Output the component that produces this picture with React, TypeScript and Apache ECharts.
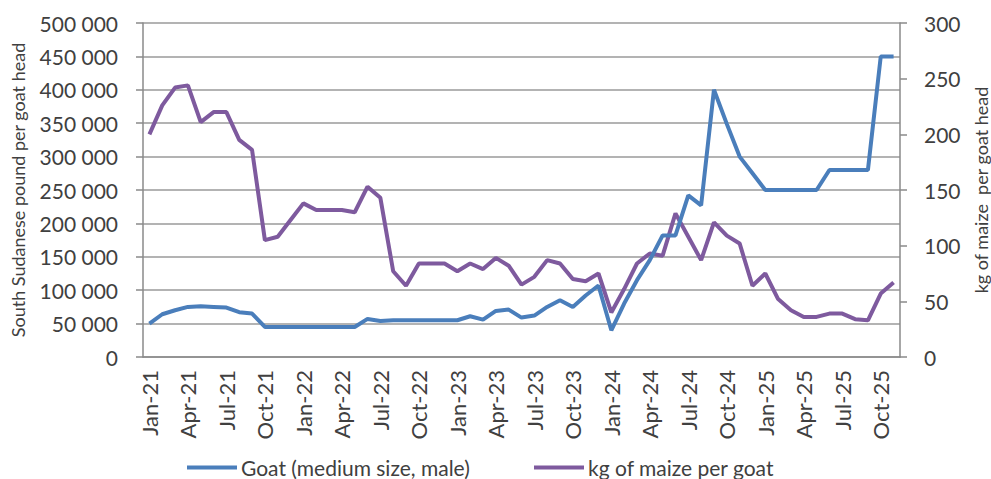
import React, { useEffect, useRef } from "react";
import * as echarts from "echarts";

// Monthly categories, Jan-21 .. Nov-25
const months: string[] = [
  "Jan-21", "Feb-21", "Mar-21", "Apr-21", "May-21", "Jun-21", "Jul-21", "Aug-21", "Sep-21", "Oct-21", "Nov-21", "Dec-21",
  "Jan-22", "Feb-22", "Mar-22", "Apr-22", "May-22", "Jun-22", "Jul-22", "Aug-22", "Sep-22", "Oct-22", "Nov-22", "Dec-22",
  "Jan-23", "Feb-23", "Mar-23", "Apr-23", "May-23", "Jun-23", "Jul-23", "Aug-23", "Sep-23", "Oct-23", "Nov-23", "Dec-23",
  "Jan-24", "Feb-24", "Mar-24", "Apr-24", "May-24", "Jun-24", "Jul-24", "Aug-24", "Sep-24", "Oct-24", "Nov-24", "Dec-24",
  "Jan-25", "Feb-25", "Mar-25", "Apr-25", "May-25", "Jun-25", "Jul-25", "Aug-25", "Sep-25", "Oct-25", "Nov-25",
];

// Goat price, South Sudanese pound per head (left axis)
const goatPrice: number[] = [
  50000, 64000, 70000, 75000, 76000, 75000, 74000, 67000, 65000, 45000, 45000, 45000,
  45000, 45000, 45000, 45000, 45000, 57000, 54000, 55000, 55000, 55000, 55000, 55000,
  55000, 61000, 56000, 69000, 71000, 59000, 62000, 75000, 85000, 75000, 92000, 107000,
  40000, 80000, 115000, 145000, 182000, 182000, 242000, 227000, 400000, 349000, 300000, 275000,
  250000, 250000, 250000, 250000, 250000, 280000, 280000, 280000, 280000, 450000, 450000,
];

// Terms of trade, kg of maize per goat (right axis)
const maizePerGoat: number[] = [
  200, 226, 242, 244, 211, 220, 220, 195, 186, 105, 108, 123,
  138, 132, 132, 132, 130, 153, 143, 77, 64, 84, 84, 84,
  77, 84, 79, 89, 82, 65, 72, 87, 84, 70, 68, 75,
  40, 61, 84, 93, 91, 129, 108, 87, 121, 109, 102, 64,
  75, 52, 42, 36, 36, 39, 39, 34, 33, 57, 67,
];

const seriesNames = ["Goat (medium size, male)", "kg of maize per goat"];
const axisTitles = ["South Sudanese pound per goat head", "kg of maize  per goat head"];

const FONT = "Lato, 'Open Sans', sans-serif";
const TEXT = "#404040";
const AXIS = "#8a8a8a";
const BLUE = "#4a7ebb";
const PURPLE = "#7e5a9e";

const fmtThousands = (v: number) =>
  v === 0 ? "0" : String(v).replace(/\B(?=(\d{3})+(?!\d))/g, " ");

const legendBase = {
  top: 452,
  icon: "rect",
  itemWidth: 50,
  itemHeight: 4,
  textStyle: { fontFamily: FONT, fontSize: 21, color: TEXT, padding: [0, 0, 0, -1] },
};

export default function App() {
  const ref = useRef<HTMLDivElement>(null);

  useEffect(() => {
    if (!ref.current) return;
    const chart = echarts.init(ref.current, undefined, { renderer: "svg" });
    chart.setOption({
      animation: false,
      backgroundColor: "#ffffff",
      textStyle: { fontFamily: FONT, color: TEXT },
      grid: {
        left: 143,
        right: 91,
        top: 23,
        bottom: 122,
        containLabel: false,
        outerBoundsMode: "none",
      },
      legend: [
        { ...legendBase, data: [seriesNames[0]], left: 182 },
        { ...legendBase, data: [seriesNames[1]], left: 529 },
      ],
      xAxis: {
        type: "category",
        data: months,
        boundaryGap: true,
        axisLine: { lineStyle: { color: AXIS, width: 1.5 } },
        axisTick: { interval: 2, length: 6, lineStyle: { color: AXIS, width: 1.5 } },
        axisLabel: {
          interval: 2,
          rotate: 90,
          margin: 13,
          fontFamily: FONT,
          fontSize: 22,
          color: TEXT,
        },
        splitLine: { show: false },
      },
      yAxis: [
        {
          type: "value",
          min: 0,
          max: 500000,
          interval: 50000,
          position: "left",
          name: axisTitles[0],
          nameLocation: "middle",
          nameRotate: 90,
          nameGap: 116,
          nameTextStyle: { fontFamily: FONT, fontSize: 18, color: TEXT },
          axisLine: { show: true, lineStyle: { color: AXIS, width: 1.5 } },
          axisTick: { show: true, length: 7, lineStyle: { color: AXIS, width: 1.5 } },
          axisLabel: {
            margin: 25,
            fontFamily: FONT,
            fontSize: 21,
            color: TEXT,
            formatter: (v: number) => fmtThousands(v),
          },
          splitLine: { show: true, lineStyle: { color: "#9a9a9a", width: 1.5 } },
        },
        {
          type: "value",
          min: 0,
          max: 300,
          interval: 50,
          position: "right",
          name: axisTitles[1],
          nameLocation: "middle",
          nameRotate: 90,
          nameGap: 72,
          nameTextStyle: { fontFamily: FONT, fontSize: 18, color: TEXT },
          axisLine: { show: true, lineStyle: { color: AXIS, width: 1.5 } },
          axisTick: { show: true, length: 7, lineStyle: { color: AXIS, width: 1.5 } },
          axisLabel: { margin: 24, fontFamily: FONT, fontSize: 21, color: TEXT },
          splitLine: { show: false },
        },
      ],
      series: [
        {
          name: seriesNames[0],
          type: "line",
          yAxisIndex: 0,
          data: goatPrice,
          symbol: "none",
          lineStyle: { color: BLUE, width: 4 },
          itemStyle: { color: BLUE },
          z: 3,
        },
        {
          name: seriesNames[1],
          type: "line",
          yAxisIndex: 1,
          data: maizePerGoat,
          symbol: "none",
          lineStyle: { color: PURPLE, width: 4 },
          itemStyle: { color: PURPLE },
          z: 2,
        },
      ],
    });
    return () => chart.dispose();
  }, []);

  return (
    <div
      ref={ref}
      style={{ position: "absolute", left: 0, top: 0, width: 991, height: 479, background: "#fff" }}
    />
  );
}
